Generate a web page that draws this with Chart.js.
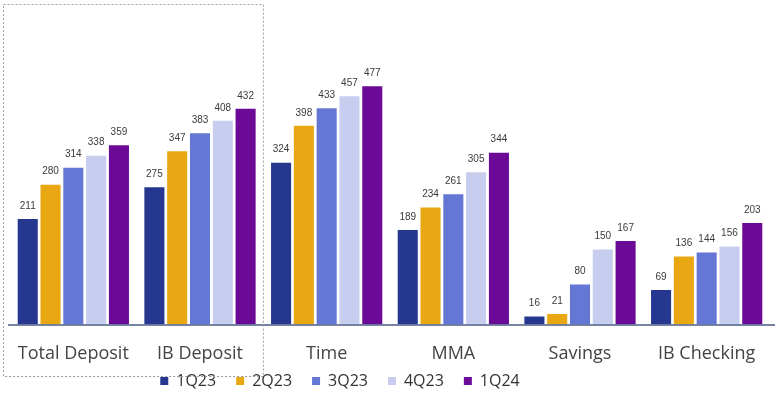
<!DOCTYPE html>
<html>
<head>
<meta charset="utf-8">
<script src="https://cdn.jsdelivr.net/npm/chart.js@4/dist/chart.umd.min.js"></script>
<style>
  html, body { margin: 0; padding: 0; background: #fff; }
  #wrap { width: 775px; height: 410px; }
</style>
</head>
<body>
<div id="wrap"><canvas id="c"></canvas></div>
<script>
// ── data ─────────────────────────────────────────────────
const categories = ['Total Deposit', 'IB Deposit', 'Time', 'MMA', 'Savings', 'IB Checking'];
const quarters   = ['1Q23', '2Q23', '3Q23', '4Q23', '1Q24'];
const q1_23 = [211, 275, 324, 189, 16, 69];
const q2_23 = [280, 347, 398, 234, 21, 136];
const q3_23 = [314, 383, 433, 261, 80, 144];
const q4_23 = [338, 408, 457, 305, 150, 156];
const q1_24 = [359, 432, 477, 344, 167, 203];
const colors = ['#26378f', '#e8a713', '#6577d4', '#c7cdee', '#6a0a96'];

const series = [q1_23, q2_23, q3_23, q4_23, q1_24];

// ── value labels, axis line and dashed box ───────────────
const decor = {
    id: 'decor',
    afterLayout(chart) {
        // legend sits a bit left of centre and tight under the labels
        const lg = chart.legend;
        lg.top -= 23; lg.bottom -= 23;
        lg.right -= 100;
    },
    afterDatasetsDraw(chart) {
        const { ctx, chartArea, scales: { x } } = chart;
        ctx.save();
        // value labels
        ctx.font = '10px "Liberation Sans", Arial, sans-serif';
        ctx.fillStyle = '#3a3a3a';
        ctx.textAlign = 'center';
        ctx.textBaseline = 'bottom';
        chart.data.datasets.forEach((ds, i) => {
            chart.getDatasetMeta(i).data.forEach((bar, j) => {
                ctx.fillText(ds.data[j], bar.x, bar.y - 8);
            });
        });
        // baseline
        ctx.strokeStyle = '#4b5a86';
        ctx.lineWidth = 1.5;
        ctx.beginPath();
        ctx.moveTo(8, chartArea.bottom + 0.5);
        ctx.lineTo(775, chartArea.bottom + 0.5);
        ctx.stroke();
        // dashed box round the first two categories
        const half = (x.getPixelForValue(1) - x.getPixelForValue(0)) / 2;
        const right = x.getPixelForValue(1) + half;
        ctx.strokeStyle = '#9a9a9a';
        ctx.lineWidth = 1;
        ctx.setLineDash([2, 2]);
        ctx.strokeRect(3.5, 4.5, right - 3.5, 372);
        ctx.restore();
    }
};

new Chart(document.getElementById('c'), {
    type: 'bar',
    data: {
        labels: categories,
        datasets: quarters.map((q, i) => ({
            label: q,
            data: series[i],
            backgroundColor: colors[i],
            categoryPercentage: 0.9,
            barPercentage: 0.88
        }))
    },
    options: {
        responsive: true,
        maintainAspectRatio: false,
        animation: false,
        layout: { padding: { left: 10, right: 5, top: 0, bottom: -12 } },
        plugins: {
            legend: {
                position: 'bottom',
                labels: {
                    boxWidth: 8, boxHeight: 8, padding: 20,
                    color: '#333',
                    font: { family: '"Open Sans", sans-serif', size: 16 }
                }
            },
            tooltip: { enabled: false }
        },
        scales: {
            x: {
                grid: { display: false },
                border: { display: false },
                ticks: {
                    color: '#444', padding: 11,
                    font: { family: '"Open Sans", sans-serif', size: 18 }
                }
            },
            y: { display: false, min: 0, max: 650 }
        }
    },
    plugins: [decor]
});
</script>
</body>
</html>
